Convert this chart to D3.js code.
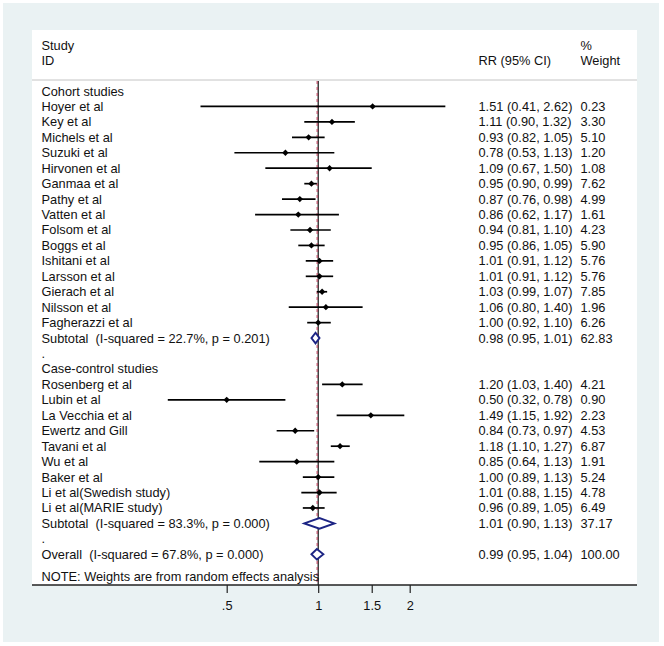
<!DOCTYPE html>
<html>
<head>
<meta charset="utf-8">
<script src="https://cdn.jsdelivr.net/npm/d3@7"></script>
<style>
  html, body { margin: 0; padding: 0; background: #fff; }
  svg { display: block; }
  text { font-family: "Liberation Sans", Arial, sans-serif; font-size: 12.8px; fill: #111; white-space: pre; }
</style>
</head>
<body>
<div id="chart"></div>
<script>
// ---------------- data ----------------
const cohortStudies = ["Hoyer et al","Key et al","Michels et al","Suzuki et al","Hirvonen et al","Ganmaa et al","Pathy et al","Vatten et al","Folsom et al","Boggs et al","Ishitani et al","Larsson et al","Gierach et al","Nilsson et al","Fagherazzi et al"];
const cohortRR     = [1.51, 1.11, 0.93, 0.78, 1.09, 0.95, 0.87, 0.86, 0.94, 0.95, 1.01, 1.01, 1.03, 1.06, 1.00];
const cohortLo     = [0.41, 0.90, 0.82, 0.53, 0.67, 0.90, 0.76, 0.62, 0.81, 0.86, 0.91, 0.91, 0.99, 0.80, 0.92];
const cohortHi     = [2.62, 1.32, 1.05, 1.13, 1.50, 0.99, 0.98, 1.17, 1.10, 1.05, 1.12, 1.12, 1.07, 1.40, 1.10];
const cohortWeight = [0.23, 3.30, 5.10, 1.20, 1.08, 7.62, 4.99, 1.61, 4.23, 5.90, 5.76, 5.76, 7.85, 1.96, 6.26];

const caseStudies = ["Rosenberg et al","Lubin et al","La Vecchia et al","Ewertz and Gill","Tavani et al","Wu et al","Baker et al","Li et al(Swedish study)","Li et al(MARIE study)"];
const caseRR     = [1.20, 0.50, 1.49, 0.84, 1.18, 0.85, 1.00, 1.01, 0.96];
const caseLo     = [1.03, 0.32, 1.15, 0.73, 1.10, 0.64, 0.89, 0.88, 0.89];
const caseHi     = [1.40, 0.78, 1.92, 0.97, 1.27, 1.13, 1.13, 1.15, 1.05];
const caseWeight = [4.21, 0.90, 2.23, 4.53, 6.87, 1.91, 5.24, 4.78, 6.49];

const pooledLabels = ["Subtotal  (I-squared = 22.7%, p = 0.201)", "Subtotal  (I-squared = 83.3%, p = 0.000)", "Overall  (I-squared = 67.8%, p = 0.000)"];
const pooledRR     = [0.98, 1.01, 0.99];
const pooledLo     = [0.95, 0.90, 0.95];
const pooledHi     = [1.01, 1.13, 1.04];
const pooledWeight = [62.83, 37.17, 100.00];

const groupTitles = ["Cohort studies", "Case-control studies"];
const tickValues = [0.5, 1, 1.5, 2];
const tickLabels = [".5", "1", "1.5", "2"];
const noteText = "NOTE: Weights are from random effects analysis";

// ---------------- build rows ----------------
const rows = [];
rows.push({type: "title", label: groupTitles[0]});
cohortStudies.forEach((s, i) => rows.push({type: "study", label: s, rr: cohortRR[i], lo: cohortLo[i], hi: cohortHi[i], w: cohortWeight[i]}));
rows.push({type: "pooled", label: pooledLabels[0], rr: pooledRR[0], lo: pooledLo[0], hi: pooledHi[0], w: pooledWeight[0]});
rows.push({type: "dot", label: "."});
rows.push({type: "title", label: groupTitles[1]});
caseStudies.forEach((s, i) => rows.push({type: "study", label: s, rr: caseRR[i], lo: caseLo[i], hi: caseHi[i], w: caseWeight[i]}));
rows.push({type: "pooled", label: pooledLabels[1], rr: pooledRR[1], lo: pooledLo[1], hi: pooledHi[1], w: pooledWeight[1]});
rows.push({type: "dot", label: "."});
rows.push({type: "pooled", label: pooledLabels[2], rr: pooledRR[2], lo: pooledLo[2], hi: pooledHi[2], w: pooledWeight[2]});
rows.forEach((r, i) => r.idx = i);

// ---------------- layout ----------------
const W = 664, H = 646;
const panel = {x: 32, y: 30, w: 605, h: 555};
const sepY = 80, axisY = 585;
const xLabel = 41.5, xRR = 478.5, xWt = 580.5;

const svg = d3.select("#chart").append("svg").attr("width", W).attr("height", H);
svg.append("rect").attr("x", 0).attr("y", 0).attr("width", W).attr("height", H).attr("fill", "#ffffff");
svg.append("rect").attr("x", 3).attr("y", 3).attr("width", 656).attr("height", 639).attr("fill", "#eaf2f3");
svg.append("rect").attr("x", panel.x).attr("y", panel.y).attr("width", panel.w).attr("height", panel.h).attr("fill", "#ffffff");

const x = d3.scaleLog().domain([0.5, 2]).range([226.7, 409.7]);
const y = d3.scaleLinear().domain([0, 30]).range([91, 554.3]);
const fmt = d3.format(".2f");

// header
svg.append("text").attr("x", xLabel).attr("y", 49.5).text("Study");
svg.append("text").attr("x", xLabel).attr("y", 64.5).text("ID");
svg.append("text").attr("x", xRR).attr("y", 64.5).text("RR (95% CI)");
svg.append("text").attr("x", xWt).attr("y", 49.5).text("%");
svg.append("text").attr("x", xWt).attr("y", 64.5).text("Weight");
svg.append("line").attr("x1", panel.x).attr("x2", panel.x + panel.w).attr("y1", sepY).attr("y2", sepY)
  .attr("stroke", "#c4c4c4").attr("stroke-width", 1);

// reference lines
svg.append("line").attr("x1", x(1)).attr("x2", x(1)).attr("y1", sepY + 1).attr("y2", axisY)
  .attr("stroke", "#111").attr("stroke-width", 1.2);
svg.append("line").attr("x1", x(pooledRR[2]) + 0.3).attr("x2", x(pooledRR[2]) + 0.3).attr("y1", sepY + 1).attr("y2", axisY)
  .attr("stroke", "#c0506a").attr("stroke-width", 1.2).attr("stroke-dasharray", "3,3");

// labels
const lab = svg.append("g");
rows.forEach(r => {
  lab.append("text").attr("x", xLabel).attr("y", y(r.idx) + 4.5).text(r.label);
  if (r.type === "study" || r.type === "pooled") {
    lab.append("text").attr("x", xRR).attr("y", y(r.idx) + 4.5)
      .text(`${fmt(r.rr)} (${fmt(r.lo)}, ${fmt(r.hi)})`);
    lab.append("text").attr("x", xWt).attr("y", y(r.idx) + 4.5).text(fmt(r.w));
  }
});
svg.append("text").attr("x", xLabel).attr("y", 580.5).text(noteText);

// CI lines and points
const studies = rows.filter(r => r.type === "study");
svg.append("g").selectAll("line").data(studies).join("line")
  .attr("x1", d => x(d.lo)).attr("x2", d => x(d.hi))
  .attr("y1", d => y(d.idx)).attr("y2", d => y(d.idx))
  .attr("stroke", "#000").attr("stroke-width", 1.7);
const sym = d3.symbol().type(d3.symbolSquare).size(20);
svg.append("g").selectAll("path").data(studies).join("path")
  .attr("d", sym)
  .attr("transform", d => `translate(${x(d.rr)},${y(d.idx)}) rotate(45)`)
  .attr("fill", "#000");

// pooled diamonds
const pooled = rows.filter(r => r.type === "pooled");
svg.append("g").selectAll("path").data(pooled).join("path")
  .attr("d", d => {
    const cy = y(d.idx), h = 5.3;
    return `M${x(d.lo)},${cy} L${x(d.rr)},${cy - h} L${x(d.hi)},${cy} L${x(d.rr)},${cy + h} Z`;
  })
  .attr("fill", "#fff").attr("stroke", "#1c2484").attr("stroke-width", 1.9);

// axis
svg.append("line").attr("x1", panel.x).attr("x2", panel.x + panel.w).attr("y1", axisY).attr("y2", axisY)
  .attr("stroke", "#222").attr("stroke-width", 1.4);
const axis = d3.axisBottom(x).tickValues(tickValues)
  .tickFormat((d, i) => tickLabels[i]).tickSize(8).tickPadding(8);
const ag = svg.append("g").attr("transform", `translate(0,${axisY})`).call(axis);
ag.select(".domain").remove();
ag.selectAll(".tick line").attr("stroke", "#222").attr("stroke-width", 1.2);
ag.selectAll(".tick text").style("font-family", '"Liberation Sans", Arial, sans-serif')
  .style("font-size", "12.8px").attr("fill", "#111");
</script>
</body>
</html>
